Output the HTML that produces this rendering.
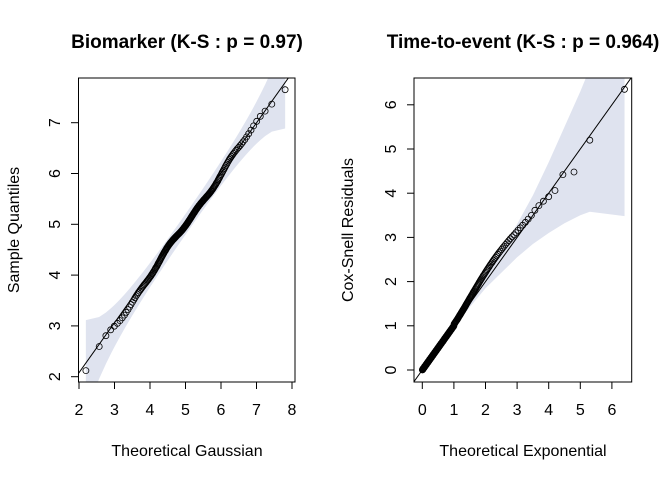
<!DOCTYPE html>
<html><head><style>
body{margin:0;background:#fff}
svg{display:block;font-family:"Liberation Sans",Arial,sans-serif}
</style></head><body>
<svg id="s" width="672" height="480" xmlns="http://www.w3.org/2000/svg">
<rect width="672" height="480" fill="#fff"/>
<g id="g"></g>
<text x="187" y="48" font-size="19" font-weight="bold" text-anchor="middle">Biomarker (K-S : p = 0.97)</text>
<text x="523" y="48" font-size="19" font-weight="bold" text-anchor="middle">Time-to-event (K-S : p = 0.964)</text>
<text x="187" y="456" font-size="16" text-anchor="middle">Theoretical Gaussian</text>
<text x="523" y="456" font-size="16" text-anchor="middle">Theoretical Exponential</text>
<text transform="translate(19,230) rotate(-90)" font-size="16" text-anchor="middle">Sample Quantiles</text>
<text transform="translate(353,230) rotate(-90)" font-size="16" text-anchor="middle">Cox-Snell Residuals</text>
</svg>
<script>
var g=document.getElementById('g'),h='';
function qn(p){var a=[-39.6968302866538,220.946098424521,-275.928510446969,138.357751867269,-30.6647980661472,2.50662827745924],b=[-54.4760987982241,161.585836858041,-155.698979859887,66.8013118877197,-13.2806815528857],c=[-0.00778489400243029,-0.322396458041136,-2.40075827716184,-2.54973253934373,4.37466414146497,2.93816398269878],d=[0.00778469570904146,0.32246712907004,2.445134137143,3.75440866190742],q,r;
if(p<0.02425){q=Math.sqrt(-2*Math.log(p));return(((((c[0]*q+c[1])*q+c[2])*q+c[3])*q+c[4])*q+c[5])/((((d[0]*q+d[1])*q+d[2])*q+d[3])*q+1);}
if(p>1-0.02425){return -qn(1-p);}
q=p-0.5;r=q*q;return(((((a[0]*r+a[1])*r+a[2])*r+a[3])*r+a[4])*r+a[5])*q/(((((b[0]*r+b[1])*r+b[2])*r+b[3])*r+b[4])*r+1);}
var LX=function(v){return 79+35.5*(v-2)},LY=function(v){return 376.7-50.8*(v-2)};
h+='<clipPath id="c1"><rect x="78.5" y="78" width="216.5" height="304"/></clipPath><clipPath id="c2"><rect x="414" y="78" width="217.7" height="304"/></clipPath>';
var n=200,up=[],lo=[];
for(var i=1;i<=n;i++){var p=(i-.5)/n,t=5+qn(p),se=1.96*Math.sqrt(p*(1-p)/n)/(Math.exp(-qn(p)*qn(p)/2)/2.5066);se=Math.min(se,1.2);up.push([t,t+se+0.03]);lo.push([t,t-se-0.03]);}
var pts=up.map(function(a){return LX(a[0])+','+LY(a[1])}).concat(lo.reverse().map(function(a){return LX(a[0])+','+LY(a[1])}));
h+='<polygon clip-path="url(#c1)" fill="#dfe3ef" points="'+pts.join(' ')+'"/>';
h+='<line clip-path="url(#c1)" x1="'+LX(1.9)+'" y1="'+LY(1.98)+'" x2="'+LX(8.1)+'" y2="'+LY(8.08)+'" stroke="#000" stroke-width="1"/>';
for(var i=1;i<=n;i++){var p=(i-.5)/n,t=5+qn(p),s=t+0.04*Math.sin(t*3.1)+0.03*Math.sin(t*7.3)-0.01;if(i==1)s=2.12;if(i==n)s=7.65;
h+='<circle cx="'+LX(t).toFixed(1)+'" cy="'+LY(s).toFixed(1)+'" r="3" fill="none" stroke="#000" stroke-width="0.8"/>';}
h+='<rect x="78.5" y="78" width="216.5" height="304" fill="none" stroke="#000"/>';
for(var v=2;v<=8;v++){var x=LX(v);h+='<line x1="'+x+'" y1="382" x2="'+x+'" y2="389" stroke="#000"/><text x="'+x+'" y="415" font-size="16" text-anchor="middle">'+v+'</text>';}
h+='<line x1="'+LX(2)+'" y1="382" x2="'+LX(8)+'" y2="382" stroke="#000"/>';
for(var v=2;v<=7;v++){var y=LY(v);h+='<line x1="71" y1="'+y+'" x2="78.5" y2="'+y+'" stroke="#000"/><text transform="translate(54,'+y+') rotate(-90)" font-size="16" text-anchor="middle" dy="6">'+v+'</text>';}
var RX=function(v){return 422.3+31.6*v},RY=function(v){return 370-44.2*v};
var U=[[0,0.02],[0.5,0.55],[1,1.07],[1.5,1.6],[2,2.2],[2.5,2.75],[3,3.3],[3.5,3.95],[4,4.7],[4.5,5.5],[5,6.3],[5.4,7],[6.4,7],[6.4,3.48],[5.3,3.58],[5,3.5],[4.5,3.32],[4,3.1],[3.5,2.85],[3,2.55],[2.5,2.2],[2,1.85],[1.5,1.42],[1,0.95],[0.5,0.47],[0,0]];
h+='<polygon clip-path="url(#c2)" fill="#dfe3ef" points="'+U.map(function(a){return RX(a[0])+','+RY(a[1])}).join(' ')+'"/>';
h+='<line clip-path="url(#c2)" x1="'+RX(-0.3)+'" y1="'+RY(-0.3)+'" x2="'+RX(6.7)+'" y2="'+RY(6.7)+'" stroke="#000"/>';
var m=300;
for(var i=1;i<=m;i++){var p=(i-.5)/m,t=-Math.log(1-p),s=t;
if(t>1.0&&t<3.6)s=t+0.2*Math.pow(Math.sin((t-1.0)/2.6*Math.PI),1.5)+0.03;
if(t>3.5)s=t-0.05+0.1*Math.sin(t*4);
if(i==m){t=6.4;s=6.35}if(i==m-1){t=5.3;s=5.2}if(i==m-2){t=4.8;s=4.48}if(i==m-3){t=4.45;s=4.42}
h+='<circle cx="'+RX(t).toFixed(1)+'" cy="'+RY(s).toFixed(1)+'" r="3" fill="none" stroke="#000" stroke-width="0.8"/>';}
h+='<rect x="414" y="78" width="217.7" height="304" fill="none" stroke="#000"/>';
for(var v=0;v<=6;v++){var x=RX(v);h+='<line x1="'+x+'" y1="382" x2="'+x+'" y2="389" stroke="#000"/><text x="'+x+'" y="415" font-size="16" text-anchor="middle">'+v+'</text>';
var y=RY(v);h+='<line x1="407" y1="'+y+'" x2="414" y2="'+y+'" stroke="#000"/><text transform="translate(390,'+y+') rotate(-90)" font-size="16" text-anchor="middle" dy="6">'+v+'</text>';}
h+='<line x1="'+RX(0)+'" y1="382" x2="'+RX(6)+'" y2="382" stroke="#000"/>';
g.innerHTML=h;
</script>
</body></html>
